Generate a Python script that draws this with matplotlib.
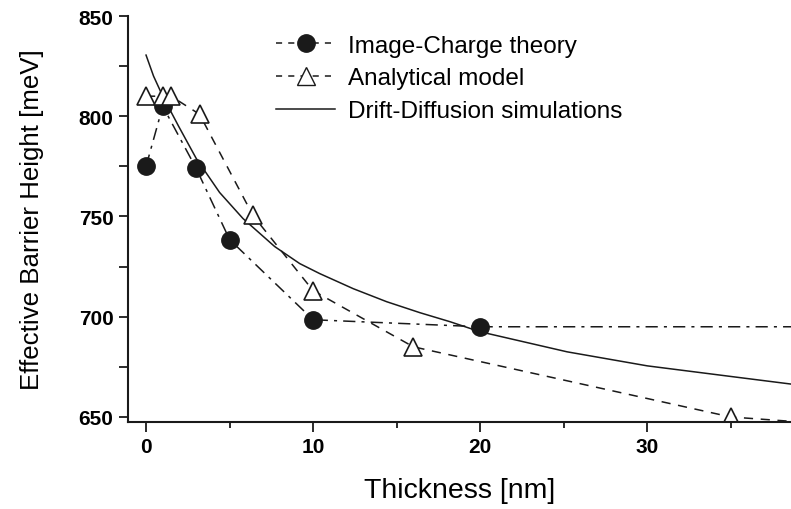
import numpy as np
import matplotlib.pyplot as plt
from matplotlib.lines import Line2D
from matplotlib.ticker import MultipleLocator

plt.rcParams['font.family'] = ['Liberation Sans', 'DejaVu Sans']

# 数据
ic_x = [0, 1, 3, 5, 10, 20, 40]
ic_y = [775, 805, 774, 738.5, 698.5, 695, 695]

am_x = [0, 1, 1.5, 3.2, 6.4, 10, 16, 35, 40]
am_y = [810, 810, 810, 801, 750.5, 713, 685, 650, 647]
am_marker_x = am_x[:-1]
am_marker_y = am_y[:-1]

dd_x = [0, 0.45, 1, 1.95, 3, 4.4, 5.8, 7.7, 9.2, 10.4, 12.4, 14.4, 16.4, 18.2, 20, 25.2, 30, 35.2, 39]
dd_y = [830.5, 820, 810, 795, 779, 762, 749, 735, 726.5, 721.5, 714, 707.5, 702, 697.5, 692.5, 682.5, 675.5, 670, 666]

col = '#1a1a1a'
fig = plt.figure(figsize=(7.91, 5.10), dpi=100)
ax = fig.add_axes([128/791, 87/510, 1 - 128/791, 406/510])

ax.plot(dd_x, dd_y, '-', color=col, lw=1.1)
ax.plot(ic_x, ic_y, color=col, lw=1.1, dashes=(8, 4, 2, 4))
ax.plot(ic_x[:-1], ic_y[:-1], 'o', color=col, ms=12.5)
ax.plot(am_x, am_y, color=col, lw=1.1, dashes=(6, 5))
ax.plot(am_marker_x, am_marker_y, '^', mfc='white', mec=col, mew=1.2, ms=12.5, ls='none')

ax.set_xlim(-1.08, 38.6)
ax.set_ylim(647.5, 850)
ax.xaxis.set_major_locator(MultipleLocator(10))
ax.xaxis.set_minor_locator(MultipleLocator(5))
ax.yaxis.set_major_locator(MultipleLocator(50))
ax.yaxis.set_minor_locator(MultipleLocator(25))
ax.tick_params(which='major', length=7, width=1.3, labelsize=15, direction='out', color=col, pad=4)
ax.tick_params(which='minor', length=4.5, width=1.3, direction='out', color=col)
ax.tick_params(axis='y', which='minor', length=6.5)
ax.tick_params(axis='y', which='major', length=6.5)
for lab in ax.get_xticklabels() + ax.get_yticklabels():
    lab.set_fontweight('bold')
for s in ['top', 'right']:
    ax.spines[s].set_visible(False)
for s in ['left', 'bottom']:
    ax.spines[s].set_linewidth(1.5)
    ax.spines[s].set_color(col)

ax.set_xlabel('Thickness [nm]', fontsize=20.5, labelpad=15)
ax.set_ylabel('Effective Barrier Height [meV]', fontsize=18.6, labelpad=25)

handles = [
    Line2D([], [], color=col, lw=1.1, dashes=(4, 4), marker='o', ms=12.5),
    Line2D([], [], color=col, lw=1.1, dashes=(4, 4), marker='^', mfc='white', mec=col, ms=12.5),
    Line2D([], [], color=col, lw=1.1),
]
labels = ['Image-Charge theory', 'Analytical model', 'Drift-Diffusion simulations']
ax.legend(handles, labels, loc='upper left', bbox_to_anchor=(0.19, 1.008), frameon=False,
          fontsize=17.5, handlelength=2.45, handletextpad=0.5, labelspacing=0.44)

fig.savefig('out.png', dpi=100)
